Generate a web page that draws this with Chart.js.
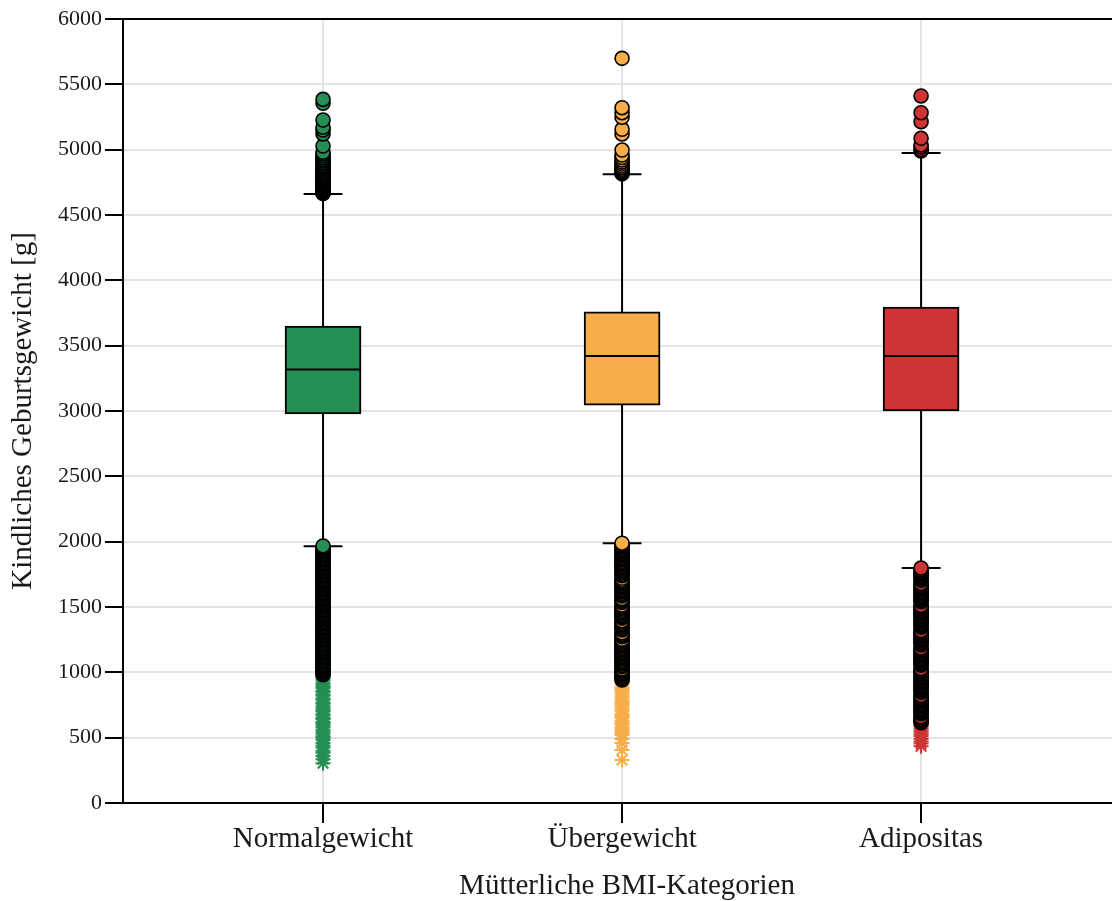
<!DOCTYPE html>
<html lang="de">
<head>
<meta charset="utf-8">
<title>Kindliches Geburtsgewicht nach mütterlicher BMI-Kategorie</title>
<script src="https://cdn.jsdelivr.net/npm/chart.js@4.4.1/dist/chart.umd.min.js"></script>
<style>
  html, body { margin: 0; padding: 0; background: #fff; overflow: hidden; }
  #wrap { width: 1131px; height: 901px; position: relative; }
</style>
</head>
<body>
<div id="wrap"><canvas id="chart"></canvas></div>
<script>
// Kategorien und Kennwerte der Boxplots (Gramm)
const categories = ['Normalgewicht', 'Übergewicht', 'Adipositas'];
const q1 = [2978, 3045, 3000];
const median = [3318, 3421, 3421];
const q3 = [3650, 3758, 3796];
const whiskerLow = [1965, 1988, 1798];
const whiskerHigh = [4661, 4811, 4975];
const yTicks = [0, 500, 1000, 1500, 2000, 2500, 3000, 3500, 4000, 4500, 5000, 5500, 6000];

// Ausreißer (Kreise) je Kategorie
const outliersNormal = [
  981, 990, 1001, 1010, 1020, 1030, 1040, 1050, 1060, 1070, 1080, 1090, 1100, 1110, 1120, 1130,
  1140, 1150, 1160, 1170, 1180, 1190, 1200, 1210, 1220, 1230, 1240, 1250, 1260, 1270, 1280, 1290,
  1300, 1310, 1320, 1330, 1340, 1350, 1360, 1370, 1380, 1390, 1400, 1410, 1420, 1430, 1440, 1450,
  1460, 1470, 1480, 1490, 1500, 1510, 1520, 1530, 1540, 1550, 1560, 1570, 1580, 1590, 1600, 1610,
  1620, 1630, 1640, 1650, 1660, 1670, 1680, 1690, 1700, 1710, 1720, 1730, 1740, 1750, 1760, 1770,
  1780, 1790, 1800, 1810, 1820, 1830, 1840, 1850, 1860, 1870, 1880, 1890, 1900, 1910, 1920, 1930,
  1940, 1950, 1958, 1967,
  4664, 4668, 4671, 4676, 4680, 4684, 4689, 4693, 4698, 4703, 4707, 4712, 4718, 4723, 4729, 4734,
  4741, 4747, 4753, 4760, 4766, 4773, 4781, 4788, 4795, 4803, 4810, 4819, 4826, 4835, 4843, 4852,
  4861, 4870, 4879, 4890, 4901, 4913, 4925, 4938, 4952, 4967, 4980, 5028, 5120, 5150, 5171, 5227,
  5355, 5385
];
const outliersUeber = [
  941, 950, 960, 970, 980, 990, 1000, 1010, 1018, 1025, 1042, 1052, 1062, 1072, 1082, 1092, 1102,
  1112, 1122, 1132, 1142, 1152, 1162, 1172, 1182, 1192, 1202, 1212, 1222, 1232, 1242, 1252, 1272,
  1282, 1292, 1302, 1325, 1335, 1345, 1355, 1365, 1375, 1385, 1395, 1415, 1425, 1435, 1445, 1455,
  1465, 1475, 1485, 1495, 1505, 1515, 1535, 1545, 1555, 1565, 1585, 1595, 1605, 1615, 1625, 1635,
  1645, 1655, 1665, 1675, 1685, 1695, 1705, 1720, 1740, 1750, 1760, 1770, 1780, 1790, 1800, 1810,
  1820, 1830, 1840, 1850, 1860, 1870, 1880, 1890, 1900, 1910, 1920, 1930, 1940, 1950, 1960, 1970,
  1978, 1988,
  4815, 4822, 4832, 4840, 4850, 4862, 4875, 4890, 4905, 4921, 4940, 4959, 4997, 5120, 5156, 5248,
  5283, 5321, 5699
];
const outliersAdipos = [
  615, 622, 630, 640, 650, 660, 683, 693, 703, 713, 723, 733, 743, 753, 763, 773, 783, 793, 803,
  813, 823, 848, 858, 868, 878, 888, 898, 908, 918, 928, 938, 948, 958, 968, 978, 988, 998, 1008,
  1018, 1028, 1055, 1065, 1075, 1085, 1095, 1105, 1115, 1125, 1135, 1145, 1155, 1165, 1175, 1185,
  1210, 1220, 1230, 1240, 1250, 1260, 1270, 1280, 1290, 1300, 1310, 1320, 1345, 1355, 1365, 1375,
  1385, 1395, 1405, 1415, 1425, 1435, 1445, 1455, 1465, 1475, 1485, 1495, 1505, 1512, 1540, 1550,
  1560, 1570, 1580, 1590, 1600, 1610, 1620, 1630, 1640, 1650, 1660, 1670, 1680, 1705, 1715, 1725,
  1735, 1745, 1755, 1765, 1775, 1787, 1798,
  4990, 5003, 5020, 5036, 5087, 5214, 5283, 5411
];

// Extreme Werte (Sterne) je Kategorie
const extremesNormal = [
  305, 335, 360, 384, 400, 425, 440, 460, 482, 500, 510, 530, 545, 560, 580, 595, 610, 620, 640,
  650, 670, 680, 700, 710, 725, 740, 760, 770, 790, 800, 820, 830, 850, 860, 880, 890, 905, 920,
  940, 950, 965
];
const extremesUeber = [
  329, 405, 459, 490, 520, 535, 550, 565, 580, 600, 615, 630, 650, 665, 680, 700, 715, 730, 750,
  765, 780, 800, 815, 830, 850, 865, 880, 900, 918, 930
];
const extremesAdipos = [435, 455, 470, 490, 510, 525, 540, 555, 570, 585, 600];

const outliers = [outliersNormal, outliersUeber, outliersAdipos];
const extremes = [extremesNormal, extremesUeber, extremesAdipos];

const colors = ['#248e54', '#f7ae4a', '#cd3434'];
const FONT = "'Liberation Serif', 'Times New Roman', serif";
const TEXT = '#1a1a1a';
const BOX_HALF = 0.1254;   // halbe Boxbreite in Achseneinheiten
const CAP_HALF = 0.065;    // halbe Breite der Whisker-Enden

// Liniensegmente aus den Kennwerten (null trennt Segmente)
const whiskerData = [];
const capData = [];
const medianData = [];
categories.forEach((c, i) => {
  whiskerData.push({x: i, y: q3[i]}, {x: i, y: whiskerHigh[i]}, {x: i, y: null},
                   {x: i, y: q1[i]}, {x: i, y: whiskerLow[i]}, {x: i, y: null});
  capData.push({x: i - CAP_HALF, y: whiskerHigh[i]}, {x: i + CAP_HALF, y: whiskerHigh[i]}, {x: i, y: null},
               {x: i - CAP_HALF, y: whiskerLow[i]}, {x: i + CAP_HALF, y: whiskerLow[i]}, {x: i, y: null});
  medianData.push({x: i - BOX_HALF, y: median[i]}, {x: i + BOX_HALF, y: median[i]}, {x: i, y: null});
});

const lineStyle = {
  type: 'line', borderColor: '#000', borderWidth: 2, pointRadius: 0,
  fill: false, tension: 0, spanGaps: false
};

const datasets = [
  {
    type: 'bar',
    label: 'Box',
    data: categories.map((c, i) => ({x: i, y: [q1[i], q3[i]]})),
    backgroundColor: colors,
    borderColor: '#000',
    borderWidth: 2,
    borderSkipped: false,
    barThickness: 76,
    order: 6
  },
  Object.assign({label: 'Whisker', data: whiskerData, order: 5}, lineStyle),
  Object.assign({label: 'Whisker-Enden', data: capData, order: 4}, lineStyle),
  Object.assign({label: 'Median', data: medianData, order: 3}, lineStyle)
];

categories.forEach((c, i) => {
  datasets.push({
    type: 'scatter',
    label: c + ' Extremwerte',
    data: extremes[i].map(v => ({x: i, y: v})),
    pointStyle: 'star',
    pointRadius: 7.5,
    pointBorderColor: colors[i],
    pointBackgroundColor: colors[i],
    pointBorderWidth: 2,
    order: 2
  });
  datasets.push({
    type: 'scatter',
    label: c + ' Ausreißer',
    data: outliers[i].map(v => ({x: i, y: v})),
    pointStyle: 'circle',
    pointRadius: 7,
    pointBackgroundColor: colors[i],
    pointBorderColor: '#000',
    pointBorderWidth: 1.6,
    order: 1
  });
});

new Chart(document.getElementById('chart'), {
  type: 'bar',
  data: { datasets },
  options: {
    responsive: true,
    maintainAspectRatio: false,
    animation: false,
    events: [],
    layout: { autoPadding: false, padding: { top: 19, right: 0, bottom: 0, left: 0 } },
    plugins: {
      legend: { display: false },
      tooltip: { enabled: false }
    },
    scales: {
      x: {
        type: 'linear',
        offset: false,
        min: -0.669,
        max: 2.702,
        afterBuildTicks: (scale) => { scale.ticks = categories.map((c, i) => ({value: i})); },
        afterFit: (scale) => { scale.height = 98; },
        grid: {
          offset: false,
          color: '#e4e4e4', lineWidth: 2,
          drawTicks: true, tickLength: 20, tickColor: '#000', tickWidth: 2
        },
        border: { display: true, color: '#000', width: 2 },
        ticks: {
          autoSkip: false, maxRotation: 0, padding: 2,
          color: TEXT,
          font: { family: FONT, size: 29, lineHeight: 1 },
          callback: (v) => categories[v]
        },
        title: {
          display: true,
          text: 'Mütterliche BMI-Kategorien',
          color: TEXT,
          font: { family: FONT, size: 29, lineHeight: 1 },
          padding: { top: 0, bottom: 0 }
        }
      },
      y: {
        min: 0,
        max: 6000,
        afterBuildTicks: (scale) => { scale.ticks = yTicks.map(v => ({value: v})); },
        afterFit: (scale) => { scale.width = 123; },
        grid: {
          color: (ctx) => (ctx.tick && ctx.tick.value === 6000) ? '#000' : '#e4e4e4',
          lineWidth: 2,
          drawTicks: true, tickLength: 18, tickColor: '#000', tickWidth: 2
        },
        border: { display: true, color: '#000', width: 2 },
        ticks: {
          padding: 3,
          color: TEXT,
          font: { family: FONT, size: 22, lineHeight: 1 },
          callback: (v) => String(v)
        },
        title: {
          display: true,
          text: 'Kindliches Geburtsgewicht [g]',
          color: TEXT,
          font: { family: FONT, size: 29, lineHeight: 1 },
          padding: { top: 9, bottom: 0 }
        }
      }
    }
  }
});
</script>
</body>
</html>
